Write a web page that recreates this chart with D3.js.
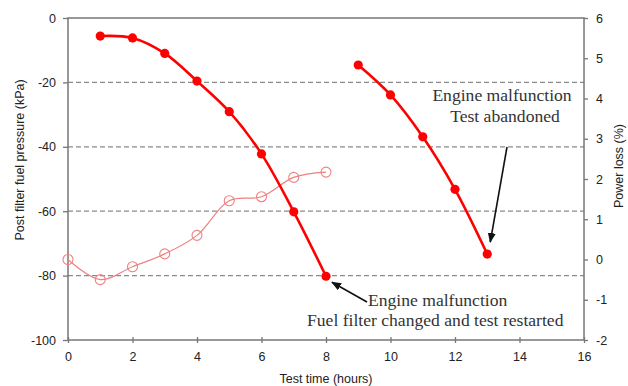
<!DOCTYPE html>
<html>
<head>
<meta charset="utf-8">
<script src="https://cdn.jsdelivr.net/npm/d3@7"></script>
<style>
  html, body { margin: 0; padding: 0; background: #fff; }
  svg { display: block; }
</style>
</head>
<body>
<svg id="chart" width="628" height="386"></svg>
<script>
// Test hours and post-filter fuel pressure (kPa), first run (hours 1-8)
const hoursRun1 = [1, 2, 3, 4, 5, 6, 7, 8];
const pressureRun1 = [-5.6, -6.2, -11.0, -19.6, -29.1, -42.2, -60.2, -80.2];

// Second run after the filter change (hours 9-13)
const hoursRun2 = [9, 10, 11, 12, 13];
const pressureRun2 = [-14.6, -23.9, -36.9, -53.2, -73.3];

// Power loss (%) during the first run (hours 0-8)
const hoursPower = [0, 1, 2, 3, 4, 5, 6, 7, 8];
const powerLoss = [0.0, -0.5, -0.18, 0.14, 0.6, 1.46, 1.56, 2.04, 2.17];

// Axis ticks
const xTicks = [0, 2, 4, 6, 8, 10, 12, 14, 16];
const leftTicks = [0, -20, -40, -60, -80, -100];
const rightTicks = [6, 5, 4, 3, 2, 1, 0, -1, -2];
const gridLevels = [-20, -40, -60, -80];

const svg = d3.select("#chart");
const m = { left: 68, right: 584, top: 18, bottom: 340 };

const x = d3.scaleLinear().domain([0, 16]).range([m.left, m.right]);
const yL = d3.scaleLinear().domain([-100, 0]).range([m.bottom, m.top]);
const yR = d3.scaleLinear().domain([-2, 6]).range([m.bottom, m.top]);

const axisColor = "#777";
const sans = "'Liberation Sans', Arial, sans-serif";
const serif = "'Liberation Serif', 'Times New Roman', serif";
const plain = d => String(d); // hyphen-minus labels

// dashed horizontal grid
svg.append("g").selectAll("line").data(gridLevels).join("line")
  .attr("x1", m.left).attr("x2", m.right)
  .attr("y1", d => yL(d)).attr("y2", d => yL(d))
  .attr("stroke", "#8a8a8a").attr("stroke-width", 1.3)
  .attr("stroke-dasharray", "5,3");

// plot frame
svg.append("rect")
  .attr("x", m.left).attr("y", m.top)
  .attr("width", m.right - m.left).attr("height", m.bottom - m.top)
  .attr("fill", "none").attr("stroke", axisColor).attr("stroke-width", 1.5);

// left axis
const gL = svg.append("g").attr("transform", `translate(${m.left},0)`)
  .call(d3.axisLeft(yL).tickValues(leftTicks).tickFormat(plain).tickSize(5).tickPadding(7));
// right axis
const gR = svg.append("g").attr("transform", `translate(${m.right},0)`)
  .call(d3.axisRight(yR).tickValues(rightTicks).tickFormat(plain).tickSize(4).tickPadding(8));
// bottom axis (ticks cross the line)
const gB = svg.append("g").attr("transform", `translate(0,${m.bottom})`)
  .call(d3.axisBottom(x).tickValues(xTicks).tickFormat(plain).tickSize(3).tickPadding(9));
gB.selectAll(".tick line").attr("y1", -3);

[gL, gR, gB].forEach(g => {
  g.select(".domain").remove();
  g.selectAll(".tick line").attr("stroke", axisColor).attr("stroke-width", 1.3);
  g.selectAll(".tick text").attr("font-family", sans).attr("font-size", 12.5)
    .attr("fill", "#222");
});

// axis titles
svg.append("text")
  .attr("transform", "translate(24,160) rotate(-90)")
  .attr("text-anchor", "middle").attr("font-family", sans).attr("font-size", 12.5)
  .attr("fill", "#222").text("Post filter fuel pressure (kPa)");
svg.append("text")
  .attr("transform", "translate(623,166) rotate(-90)")
  .attr("text-anchor", "middle").attr("font-family", sans).attr("font-size", 12.5)
  .attr("fill", "#222").text("Power loss (%)");
svg.append("text")
  .attr("x", x(8)).attr("y", 383)
  .attr("text-anchor", "middle").attr("font-family", sans).attr("font-size", 12.5)
  .attr("fill", "#222").text("Test time (hours)");

// power loss series (right axis)
const pinkColor = "#ee8080";
const powerPts = hoursPower.map((h, i) => [x(h), yR(powerLoss[i])]);
svg.append("path")
  .attr("d", d3.line().curve(d3.curveCatmullRom.alpha(0.5))(powerPts))
  .attr("fill", "none").attr("stroke", pinkColor).attr("stroke-width", 1.2);
svg.append("g").selectAll("circle").data(powerPts).join("circle")
  .attr("cx", d => d[0]).attr("cy", d => d[1]).attr("r", 5)
  .attr("fill", "none").attr("stroke", pinkColor).attr("stroke-width", 1.1);

// pressure series (left axis)
const red = "#ff0000";
[[hoursRun1, pressureRun1], [hoursRun2, pressureRun2]].forEach(([hs, vs]) => {
  const pts = hs.map((h, i) => [x(h), yL(vs[i])]);
  svg.append("path")
    .attr("d", d3.line().curve(d3.curveCatmullRom.alpha(0.5))(pts))
    .attr("fill", "none").attr("stroke", red).attr("stroke-width", 2.6);
  svg.append("g").selectAll("circle").data(pts).join("circle")
    .attr("cx", d => d[0]).attr("cy", d => d[1]).attr("r", 4.6)
    .attr("fill", red);
});

// arrow head
svg.append("defs").append("marker")
  .attr("id", "arrowHead").attr("viewBox", "0 0 10 10")
  .attr("refX", 9).attr("refY", 5)
  .attr("markerWidth", 10).attr("markerHeight", 10)
  .attr("markerUnits", "userSpaceOnUse").attr("orient", "auto")
  .append("path").attr("d", "M0,1 L10,5 L0,9 Z").attr("fill", "#111");

const noteSize = 17.6;

// annotation: test abandoned
const lastRun2 = [x(13), yL(pressureRun2[pressureRun2.length - 1])];
svg.append("line")
  .attr("x1", 507).attr("y1", 147)
  .attr("x2", lastRun2[0] + 3).attr("y2", lastRun2[1] - 12)
  .attr("stroke", "#111").attr("stroke-width", 1.6).attr("marker-end", "url(#arrowHead)");
svg.append("text").attr("x", 502).attr("y", 101).attr("text-anchor", "middle")
  .attr("font-family", serif).attr("font-size", noteSize).attr("fill", "#333")
  .text("Engine malfunction");
svg.append("text").attr("x", 505).attr("y", 122).attr("text-anchor", "middle")
  .attr("font-family", serif).attr("font-size", noteSize).attr("fill", "#333")
  .text("Test abandoned");

// annotation: fuel filter changed
const lastRun1 = [x(8), yL(pressureRun1[pressureRun1.length - 1])];
svg.append("line")
  .attr("x1", 367).attr("y1", 302)
  .attr("x2", lastRun1[0] + 6).attr("y2", lastRun1[1] + 6)
  .attr("stroke", "#111").attr("stroke-width", 1.6).attr("marker-end", "url(#arrowHead)");
svg.append("text").attr("x", 368).attr("y", 306)
  .attr("font-family", serif).attr("font-size", noteSize).attr("fill", "#333")
  .text("Engine malfunction");
svg.append("text").attr("x", 307).attr("y", 326)
  .attr("font-family", serif).attr("font-size", noteSize).attr("fill", "#333")
  .text("Fuel filter changed and test restarted");
</script>
</body>
</html>
